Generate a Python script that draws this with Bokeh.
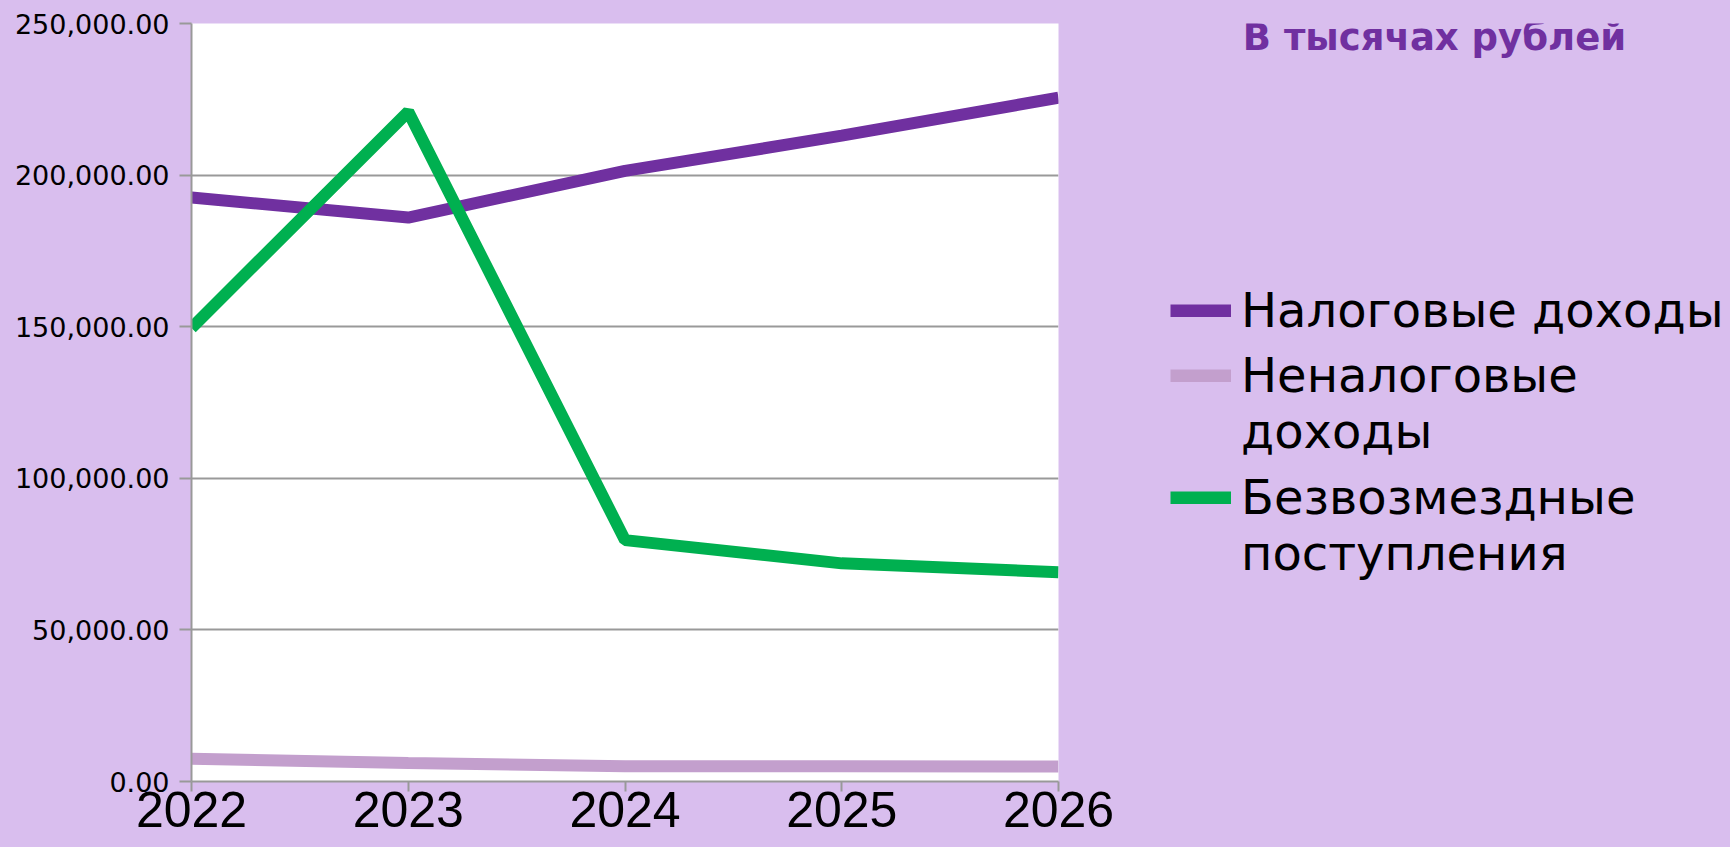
from bokeh.plotting import figure
from bokeh.layouts import row
from bokeh.models import Legend, LegendItem, Label, NumeralTickFormatter, FixedTicker
from bokeh.embed import file_html
from bokeh.resources import INLINE

years = [2022, 2023, 2024, 2025, 2026]
tax = [192600, 186000, 201400, 213000, 225500]
nontax = [7470, 6130, 5040, 5000, 4940]
grants = [149600, 220900, 79600, 71950, 69050]
series_names = ["Налоговые доходы", "Неналоговые доходы", "Безвозмездные поступления"]
legend_lines = [["Налоговые доходы"], ["Неналоговые", "доходы"], ["Безвозмездные", "поступления"]]
colors = ["#7030A0", "#C39FCD", "#00B050"]
y_ticks = [0, 50000, 100000, 150000, 200000, 250000]
title_text = "В тысячах рублей"

BG = "#D9BEEE"
FONT = "DejaVu Sans"
H = 847
W_MAIN = 1118

p = figure(width=W_MAIN, height=H, output_backend="svg", toolbar_location=None,
           x_range=(2022, 2026), y_range=(0, 250000),
           min_border_left=191, min_border_top=23, min_border_right=60, min_border_bottom=66)
p.frame_width = 867
p.frame_height = 758
p.background_fill_color = "white"
p.border_fill_color = BG
p.outline_line_color = None

series = [tax, nontax, grants]
for s, c, n in zip(series, colors, series_names):
    p.line(years, s, line_color=c, line_width=12, name=n)

p.xaxis.ticker = FixedTicker(ticks=years)
p.yaxis.ticker = FixedTicker(ticks=y_ticks)
p.yaxis.formatter = NumeralTickFormatter(format="0,0.00")
for ax in (p.xaxis[0], p.yaxis[0]):
    ax.axis_line_color = "#999999"
    ax.axis_line_width = 2
    ax.major_tick_line_color = "#999999"
    ax.major_tick_line_width = 2
    ax.minor_tick_line_color = None
    ax.major_tick_in = 0
    ax.major_label_text_color = "black"
p.xaxis.major_tick_out = 10
p.yaxis.major_tick_out = 12
p.xaxis.major_label_text_font = "Liberation Sans"
p.xaxis.major_label_text_font_size = "50px"
p.xaxis.major_label_standoff = 0
p.yaxis.major_label_text_font = FONT
p.yaxis.major_label_text_font_size = "27px"
p.yaxis.major_label_standoff = 10

p.xgrid.grid_line_color = None
p.ygrid.grid_line_color = "#999999"
p.ygrid.grid_line_width = 2

# side panel for title and legend (its frame is aligned with the main frame)
W_SIDE = 1730 - W_MAIN
p2 = figure(width=W_SIDE, height=H, output_backend="svg", toolbar_location=None,
            x_range=(0, 1), y_range=(0, 1), x_axis_type=None, y_axis_type=None,
            min_border_left=0, min_border_right=0, min_border_top=23, min_border_bottom=66)
p2.frame_height = 758
p2.background_fill_color = BG
p2.border_fill_color = BG
p2.outline_line_color = None
p2.grid.visible = False

# legend proxies: same series, they fall outside this panel's ranges
rs = [p2.line(years, s, line_color=c, line_width=13) for s, c in zip(series, colors)]

legend_y = [443, 322, 200]
for r, lines, ly in zip(rs, legend_lines, legend_y):
    items = [LegendItem(label=lines[0], renderers=[r])]
    items += [LegendItem(label=t, renderers=[]) for t in lines[1:]]
    lg = Legend(items=items, location=(52, ly))
    lg.background_fill_alpha = 0
    lg.border_line_color = None
    lg.padding = 0
    lg.margin = 0
    lg.spacing = 0
    lg.glyph_width = 61
    lg.glyph_height = 13
    lg.label_standoff = 10
    lg.label_text_font = FONT
    lg.label_text_font_size = "48px"
    lg.label_text_color = "black"
    p2.add_layout(lg, "center")

title = Label(x=316, y=744, x_units="screen", y_units="screen", text=title_text,
              text_font=FONT, text_font_size="37px", text_font_style="bold",
              text_color="#7030A0", text_align="center", text_baseline="alphabetic")
p2.add_layout(title)

layout = row(p, p2, spacing=0, styles={"background-color": BG})
open("out.html", "w").write(file_html(layout, INLINE))
